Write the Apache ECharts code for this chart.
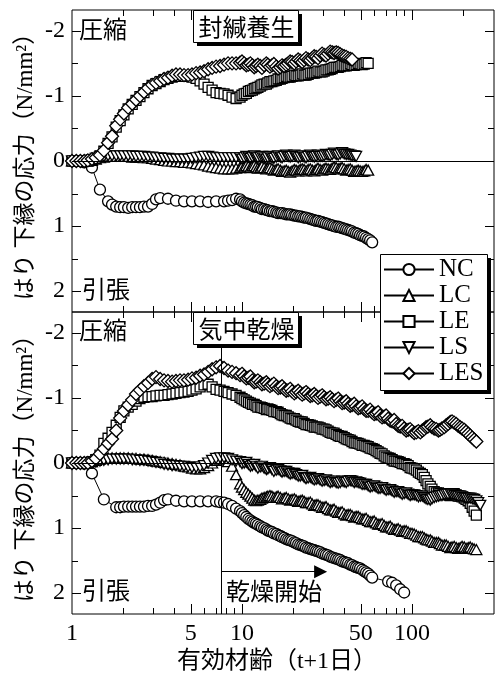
<!DOCTYPE html>
<html>
<head>
<meta charset="utf-8">
<script src="https://cdn.jsdelivr.net/npm/echarts@6/dist/echarts.min.js"></script>
<style>
  html, body { margin: 0; padding: 0; background: #fff; }
  #chart { width: 496px; height: 678px; }
</style>
</head>
<body>
<div id="chart"></div>
<script>
// Effective age (t+1 days) of each reading — sealed curing panel
const daysSealed = [
  1.00, 1.06, 1.12, 1.18, 1.24, 1.31, 1.38, 1.46, 1.54, 1.63,
  1.72, 1.82, 1.92, 2.02, 2.14, 2.26, 2.38, 2.51, 2.65, 2.80,
  2.96, 3.12, 3.30, 3.48, 3.67, 3.88, 4.09, 4.32, 4.56, 4.82,
  5.08, 5.37, 5.67, 5.98, 6.32, 6.67, 7.04, 7.43, 7.84, 8.28,
  8.74, 9.23,
  9.74, 10.0, 10.3, 10.6, 10.9, 11.2, 11.5, 11.8, 12.1, 12.4,
  12.8, 13.1, 13.5, 13.9, 14.2, 14.6, 15.0, 15.4, 15.9, 16.3,
  16.8, 17.2, 17.7, 18.2, 18.7, 19.2, 19.7, 20.3, 20.8, 21.4,
  22.0, 22.6, 23.2, 23.8, 24.5, 25.2, 25.9, 26.6, 27.3, 28.0,
  28.8, 29.6, 30.4, 31.2, 32.1, 33.0, 33.9, 34.8, 35.8, 36.8,
  37.8, 38.8, 39.9, 41.0, 42.1, 43.3, 44.4, 45.7, 46.9, 48.2,
  49.5, 50.9, 52.3, 53.7, 55.2, 56.7, 58.3
];
// Stress at the bottom fibre of the beam (N/mm2), compression negative
const ncSealed = [
  0, 0, 0, 0.02, null, 0.10, null, 0.44, null, 0.62,
  0.67, 0.70, 0.71, 0.71, 0.72, 0.71, 0.71, 0.71, 0.70, 0.70,
  0.66, 0.59, 0.57, null, 0.58, null, 0.61, null, 0.62, null,
  0.62, null, 0.62, null, 0.63, null, 0.62, null, 0.62, 0.61,
  0.60, 0.58,
  0.59, 0.62, 0.64, 0.65, 0.66, 0.67, 0.68, 0.70, 0.70, 0.71,
  0.72, 0.74, 0.74, 0.75, 0.76, 0.77, 0.77, 0.78, 0.79, 0.80,
  0.80, 0.80, 0.81, 0.82, 0.82, 0.82, 0.83, 0.84, 0.84, 0.85,
  0.85, 0.86, 0.87, 0.87, 0.88, 0.89, 0.90, 0.91, 0.92, 0.92,
  0.93, 0.94, 0.95, 0.96, 0.97, 0.98, 0.99, 1.00, 1.01, 1.01,
  1.02, 1.03, 1.04, 1.05, 1.06, 1.07, 1.08, 1.10, 1.11, 1.12,
  1.14, 1.15, 1.16, 1.18, 1.20, 1.22, 1.25
];
const lcSealed = [
  0, 0, 0, 0, 0, -0.01, -0.03, -0.05, -0.06, -0.07,
  -0.07, -0.07, -0.07, -0.07, -0.07, -0.06, -0.06, -0.06, -0.05, -0.05,
  -0.04, -0.03, -0.02, -0.01, 0.00, 0.00, 0.01, 0.01, 0.02, 0.02,
  0.03, 0.04, 0.05, 0.06, 0.08, 0.09, 0.10, 0.11, 0.12, 0.12,
  0.12, 0.11,
  0.10, 0.08, 0.09, 0.07, 0.08, 0.10, 0.08, 0.07, 0.09, 0.11,
  0.10, 0.08, 0.10, 0.12, 0.11, 0.10, 0.12, 0.14, 0.13, 0.12,
  0.14, 0.16, 0.15, 0.14, 0.16, 0.17, 0.15, 0.13, 0.14, 0.15,
  0.13, 0.12, 0.13, 0.15, 0.13, 0.12, 0.14, 0.15, 0.13, 0.11,
  0.13, 0.14, 0.12, 0.11, 0.12, 0.13, 0.11, 0.09, 0.10, 0.12,
  0.11, 0.10, 0.12, 0.14, 0.13, 0.12, 0.14, 0.16, 0.15, 0.14,
  0.15, 0.16, 0.15, 0.13, 0.14
];
const leSealed = [
  0, 0, 0, 0, 0, -0.02, -0.04, -0.08, -0.15, -0.27,
  -0.37, -0.52, -0.62, -0.71, -0.80, -0.87, -0.93, -0.99, -1.05, -1.11,
  -1.16, -1.19, -1.22, -1.25, -1.27, -1.29, -1.30, -1.30, -1.30, -1.30,
  -1.29, -1.27, -1.23, -1.18, -1.13, -1.09, -1.05, -1.04, -1.03, -1.01,
  -0.98, -0.96,
  -0.98, -1.01, -1.03, -1.04, -1.07, -1.08, -1.09, -1.11, -1.12, -1.13,
  -1.15, -1.17, -1.18, -1.18, -1.20, -1.22, -1.22, -1.23, -1.24, -1.26,
  -1.26, -1.27, -1.28, -1.30, -1.29, -1.29, -1.30, -1.32, -1.31, -1.31,
  -1.32, -1.34, -1.32, -1.32, -1.33, -1.35, -1.35, -1.35, -1.36, -1.38,
  -1.37, -1.37, -1.38, -1.40, -1.40, -1.41, -1.42, -1.44, -1.44, -1.44,
  -1.45, -1.47, -1.46, -1.46, -1.47, -1.49, -1.48, -1.47, -1.48, -1.50,
  -1.49, -1.48, -1.49, -1.51, -1.50
];
const lsSealed = [
  0, 0, 0, 0, 0, -0.02, -0.04, -0.06, -0.07, -0.08,
  -0.08, -0.08, -0.08, -0.08, -0.08, -0.08, -0.07, -0.07, -0.07, -0.06,
  -0.06, -0.05, -0.05, -0.04, -0.04, -0.03, -0.03, -0.03, -0.03, -0.03,
  -0.04, -0.05, -0.06, -0.07, -0.07, -0.06, -0.05, -0.05, -0.05, -0.05,
  -0.05, -0.05,
  -0.05, -0.03, -0.05, -0.07, -0.06, -0.04, -0.06, -0.08, -0.06, -0.05,
  -0.06, -0.07, -0.05, -0.03, -0.05, -0.07, -0.05, -0.04, -0.06, -0.08,
  -0.06, -0.05, -0.07, -0.09, -0.07, -0.06, -0.07, -0.09, -0.07, -0.05,
  -0.06, -0.08, -0.06, -0.05, -0.07, -0.09, -0.07, -0.06, -0.07, -0.09,
  -0.07, -0.07, -0.08, -0.10, -0.09, -0.08, -0.10, -0.12, -0.10, -0.09,
  -0.11, -0.13, -0.11, -0.10, -0.10, -0.09, -0.08, -0.08, -0.07
];
const lesSealed = [
  0, 0, 0, 0, -0.01, -0.03, -0.05, -0.09, -0.16, -0.28,
  -0.38, -0.54, -0.64, -0.73, -0.82, -0.88, -0.94, -1.00, -1.06, -1.12,
  -1.17, -1.20, -1.23, -1.26, -1.28, -1.31, -1.33, -1.33, -1.32, -1.32,
  -1.33, -1.35, -1.36, -1.38, -1.41, -1.43, -1.45, -1.46, -1.48, -1.50,
  -1.50, -1.50,
  -1.51, -1.53, -1.50, -1.47, -1.48, -1.50, -1.47, -1.44, -1.46, -1.48,
  -1.46, -1.43, -1.47, -1.50, -1.48, -1.45, -1.47, -1.49, -1.45, -1.42,
  -1.44, -1.47, -1.46, -1.48, -1.50, -1.53, -1.52, -1.50, -1.53, -1.56,
  -1.54, -1.52, -1.55, -1.58, -1.56, -1.55, -1.58, -1.61, -1.60, -1.58,
  -1.62, -1.65, -1.63, -1.62, -1.65, -1.68, -1.67, -1.66, -1.67, -1.66,
  -1.64, -1.62, -1.61, -1.60, -1.58, -1.57, -1.56
];

// Effective age of each reading — air drying panel
const daysDried = [
  1.00, 1.06, 1.12, 1.18, 1.24, 1.31, 1.38, 1.46, 1.54, 1.63,
  1.72, 1.82, 1.92, 2.02, 2.14, 2.26, 2.38, 2.51, 2.65, 2.80,
  2.96, 3.12, 3.30, 3.48, 3.67, 3.88, 4.09, 4.32, 4.56, 4.82,
  5.08, 5.37, 5.67, 5.98, 6.32, 6.67, 7.04, 7.43, 7.84, 8.28,
  8.74, 9.23,
  9.74, 10.0, 10.3, 10.6, 10.9, 11.2, 11.5, 11.8, 12.1, 12.4,
  12.8, 13.1, 13.5, 13.9, 14.2, 14.6, 15.0, 15.4, 15.9, 16.3,
  16.8, 17.2, 17.7, 18.2, 18.7, 19.2, 19.7, 20.3, 20.8, 21.4,
  22.0, 22.6, 23.2, 23.8, 24.5, 25.2, 25.9, 26.6, 27.3, 28.0,
  28.8, 29.6, 30.4, 31.2, 32.1, 33.0, 33.9, 34.8, 35.8, 36.8,
  37.8, 38.8, 39.9, 41.0, 42.1, 43.3, 44.4, 45.7, 46.9, 48.2,
  49.5, 50.9, 52.3, 53.7, 55.2, 56.7, 58.3, 59.9, 61.5, 63.2,
  64.9, 66.7, 68.6, 70.4, 72.4, 74.4, 76.4, 78.5, 80.7, 82.9,
  85.2, 87.5, 89.9, 92.4, 94.9, 97.5, 100, 103, 106, 109,
  112, 115, 118, 121, 124, 128, 131, 135, 139, 143,
  146, 150, 155, 159, 163, 168, 172, 177, 182, 187,
  192, 197, 203, 208, 214, 220, 226, 232, 239, 245,
  252
];
const ncDried = [
  0, 0, 0, 0.01, null, 0.16, null, null, 0.56, null,
  null, 0.68, 0.68, 0.67, 0.67, 0.67, 0.67, 0.67, 0.67, 0.66,
  0.66, 0.64, 0.61, 0.57, 0.56, null, 0.58, null, 0.59, null,
  0.59, null, 0.59, null, 0.59, null, 0.59, 0.60, 0.61, 0.63,
  0.66, 0.70,
  0.74, 0.77, 0.80, 0.83, 0.86, 0.88, 0.90, 0.92, 0.93, 0.95,
  0.97, 0.99, 1.00, 1.02, 1.04, 1.05, 1.06, 1.08, 1.09, 1.11,
  1.12, 1.14, 1.15, 1.17, 1.18, 1.19, 1.20, 1.22, 1.23, 1.25,
  1.26, 1.27, 1.28, 1.30, 1.31, 1.32, 1.33, 1.34, 1.35, 1.36,
  1.37, 1.39, 1.40, 1.41, 1.42, 1.44, 1.45, 1.46, 1.47, 1.48,
  1.49, 1.51, 1.52, 1.53, 1.54, 1.56, 1.57, 1.59, 1.60, 1.61,
  1.62, 1.64, 1.66, 1.68, 1.70, 1.73, 1.76, null, null, null,
  null, null, null, null, 1.82, null, 1.84, null, 1.88, null,
  1.94, null, 1.99
];
const lcDried = [
  0, 0, 0, 0, 0, -0.02, -0.04, -0.06, -0.07, -0.08,
  -0.08, -0.08, -0.08, -0.08, -0.08, -0.07, -0.07, -0.06, -0.06, -0.05,
  -0.04, -0.03, -0.02, -0.01, 0.00, 0.01, 0.02, 0.03, 0.05, 0.06,
  0.08, 0.09, 0.09, 0.07, 0.04, 0.00, -0.04, -0.06, -0.05, -0.02,
  0.05, 0.18,
  0.32, 0.37, 0.41, 0.45, 0.48, 0.51, 0.54, 0.57, 0.58, 0.57,
  0.56, 0.54, 0.53, 0.52, 0.51, 0.50, 0.51, 0.53, 0.52, 0.51,
  0.53, 0.55, 0.54, 0.53, 0.55, 0.57, 0.56, 0.55, 0.57, 0.59,
  0.58, 0.57, 0.59, 0.61, 0.61, 0.60, 0.63, 0.65, 0.64, 0.64,
  0.66, 0.68, 0.68, 0.67, 0.70, 0.72, 0.72, 0.71, 0.74, 0.76,
  0.76, 0.75, 0.78, 0.80, 0.79, 0.79, 0.81, 0.83, 0.82, 0.82,
  0.84, 0.86, 0.86, 0.85, 0.88, 0.90, 0.90, 0.89, 0.92, 0.94,
  0.94, 0.93, 0.96, 0.98, 0.98, 0.97, 1.00, 1.02, 1.02, 1.01,
  1.03, 1.05, 1.04, 1.04, 1.06, 1.08, 1.08, 1.09, 1.11, 1.13,
  1.13, 1.13, 1.15, 1.17, 1.18, 1.18, 1.20, 1.22, 1.22, 1.22,
  1.24, 1.26, 1.26, 1.26, 1.28, 1.30, 1.29, 1.28, 1.30, 1.31,
  1.30, 1.28, 1.29, 1.31, 1.30, 1.29, 1.31, 1.32, 1.33
];
const leDried = [
  0, 0, 0, 0, 0, -0.02, -0.05, -0.12, -0.30, -0.38,
  -0.47, -0.58, -0.70, -0.80, -0.86, -0.90, -0.95, -0.99, -1.01, -1.02,
  -1.02, -1.03, -1.04, -1.04, -1.05, -1.06, -1.07, -1.08, -1.09, -1.10,
  -1.12, -1.14, -1.17, -1.20, -1.21, -1.17, -1.13, -1.12, -1.10, -1.08,
  -1.06, -1.04,
  -1.01, -0.99, -0.97, -0.95, -0.93, -0.92, -0.90, -0.90, -0.88, -0.86,
  -0.86, -0.85, -0.84, -0.82, -0.83, -0.82, -0.81, -0.79, -0.79, -0.78,
  -0.76, -0.74, -0.73, -0.73, -0.71, -0.69, -0.68, -0.68, -0.66, -0.64,
  -0.63, -0.63, -0.61, -0.59, -0.59, -0.58, -0.57, -0.55, -0.55, -0.55,
  -0.54, -0.52, -0.52, -0.51, -0.49, -0.47, -0.46, -0.46, -0.44, -0.42,
  -0.41, -0.41, -0.39, -0.37, -0.36, -0.35, -0.33, -0.31, -0.31, -0.30,
  -0.29, -0.27, -0.27, -0.26, -0.25, -0.23, -0.22, -0.21, -0.19, -0.17,
  -0.15, -0.14, -0.11, -0.09, -0.08, -0.07, -0.05, -0.03, -0.03, -0.02,
  -0.01, 0.01, 0.01, 0.02, 0.04, 0.07, 0.08, 0.09, 0.11, 0.14,
  0.16, 0.18, 0.22, 0.27, 0.32, 0.36, 0.40, 0.44, 0.46, 0.46,
  0.47, 0.49, 0.48, 0.47, 0.48, 0.50, 0.48, 0.47, 0.49, 0.51,
  0.51, 0.52, 0.54, 0.56, 0.58, 0.62, 0.68, 0.74, 0.80
];
const lsDried = [
  0, 0, 0, 0, 0, -0.01, -0.02, -0.03, -0.04, -0.05,
  -0.06, -0.06, -0.06, -0.06, -0.06, -0.05, -0.05, -0.04, -0.04, -0.03,
  -0.02, -0.01, 0.00, 0.02, 0.03, 0.04, 0.04, 0.05, 0.05, 0.06,
  0.07, 0.07, 0.06, 0.04, 0.00, -0.04, -0.07, -0.08, -0.08, -0.07,
  -0.05, -0.03,
  -0.02, 0.01, 0.00, -0.01, 0.02, 0.05, 0.04, 0.02, 0.05, 0.08,
  0.06, 0.05, 0.08, 0.10, 0.09, 0.07, 0.10, 0.13, 0.11, 0.10,
  0.12, 0.14, 0.13, 0.13, 0.15, 0.17, 0.16, 0.16, 0.18, 0.20,
  0.20, 0.19, 0.22, 0.24, 0.23, 0.22, 0.24, 0.26, 0.25, 0.24,
  0.26, 0.28, 0.27, 0.26, 0.28, 0.30, 0.29, 0.28, 0.30, 0.31,
  0.30, 0.28, 0.29, 0.30, 0.28, 0.27, 0.28, 0.30, 0.29, 0.30,
  0.31, 0.33, 0.33, 0.33, 0.35, 0.37, 0.36, 0.35, 0.37, 0.39,
  0.39, 0.38, 0.40, 0.42, 0.41, 0.41, 0.43, 0.45, 0.44, 0.44,
  0.46, 0.48, 0.47, 0.46, 0.48, 0.50, 0.49, 0.49, 0.50, 0.52,
  0.51, 0.51, 0.53, 0.55, 0.56, 0.57, 0.55, 0.53, 0.52, 0.51,
  0.50, 0.50, 0.49, 0.48, 0.48, 0.47, 0.48, 0.49, 0.50, 0.51,
  0.51, 0.52, 0.53, 0.54, 0.54, 0.54, 0.55, 0.56, 0.58, 0.61,
  0.65
];
const lesDried = [
  0, 0, 0, 0, 0, -0.03, -0.07, -0.14, -0.22, -0.30,
  -0.37, -0.50, -0.69, -0.80, -0.89, -0.97, -1.06, -1.12, -1.18, -1.23,
  -1.29, -1.32, -1.29, -1.27, -1.26, -1.25, -1.26, -1.27, -1.27, -1.28,
  -1.30, -1.31, -1.34, -1.36, -1.40, -1.44, -1.47, -1.49, -1.46, -1.42,
  -1.40, -1.38,
  -1.35, -1.37, -1.33, -1.30, -1.31, -1.33, -1.27, -1.24, -1.25, -1.27,
  -1.24, -1.21, -1.22, -1.24, -1.21, -1.18, -1.20, -1.22, -1.18, -1.15,
  -1.16, -1.18, -1.14, -1.11, -1.12, -1.14, -1.10, -1.07, -1.09, -1.11,
  -1.08, -1.05, -1.07, -1.09, -1.06, -1.03, -1.04, -1.06, -1.03, -1.00,
  -1.02, -1.04, -1.01, -0.98, -0.99, -1.01, -0.98, -0.95, -0.97, -0.99,
  -0.95, -0.92, -0.93, -0.95, -0.91, -0.88, -0.89, -0.91, -0.87, -0.84,
  -0.85, -0.87, -0.83, -0.80, -0.80, -0.82, -0.78, -0.75, -0.76, -0.78,
  -0.73, -0.70, -0.71, -0.73, -0.68, -0.65, -0.64, -0.66, -0.60, -0.57,
  -0.56, -0.57, -0.53, -0.50, -0.51, -0.52, -0.49, -0.46, -0.47, -0.49,
  -0.47, -0.50, -0.52, -0.55, -0.56, -0.58, -0.55, -0.53, -0.52, -0.50,
  -0.51, -0.53, -0.55, -0.58, -0.60, -0.63, -0.64, -0.62, -0.60, -0.57,
  -0.55, -0.53, -0.51, -0.48, -0.45, -0.42, -0.39, -0.36, -0.33
];

// Axis ticks and labels
const xMajorTicks = [5, 10, 50, 100];
const xMinorTicks = [2, 3, 4, 6, 7, 8, 9, 20, 30, 40, 60, 70, 80, 90, 200];
const xTickLabels = [1, 5, 10, 50, 100];
const yMajorTicks = [-2, -1, 0, 1, 2];
const yMinorTicks = [-1.5, -0.5, 0.5, 1.5];
const yTickLabels = [-2, -1, 0, 1, 2];

// Drying start and its arrow
const dryStart = 7.6;
const arrowLevel = 1.67;
const arrowEnd = 29;

const names = ['NC', 'LC', 'LE', 'LS', 'LES'];
const symbols = ['circle', 'triangle', 'rect', 'triangle', 'diamond'];
const symbolSizes = [11, [11, 10], 10, [11, 10], 13];
const symbolRotates = [0, 0, 0, 180, 0];

const SERIF = '"Liberation Serif", "Noto Sans CJK JP", serif';
const JP = '"Noto Sans CJK JP", sans-serif';

const X_MAX = 303.6;
const Y_LIM = 2.32;

function pairs(days, vals) {
  const out = [];
  days.forEach((d, i) => {
    if (vals[i] != null) out.push([d, vals[i]]);
  });
  return out;
}

function stressSeries(k, days, vals, g) {
  return {
    type: 'line',
    name: names[k],
    xAxisIndex: g,
    yAxisIndex: g,
    data: pairs(days, vals),
    symbol: symbols[k],
    symbolSize: symbolSizes[k],
    symbolRotate: symbolRotates[k],
    showAllSymbol: true,
    lineStyle: { color: '#000', width: 1 },
    itemStyle: { color: '#fff', borderColor: '#000', borderWidth: 1.3 },
    emphasis: { disabled: true },
    silent: true,
    z: 2 + k * 0.01
  };
}

const tickStyle = { stroke: '#000', lineWidth: 1 };

function xTickSeries(g, withLabels) {
  const data = [];
  xMajorTicks.forEach(v => data.push([v, 0, 10]));
  xMinorTicks.forEach(v => data.push([v, 0, 6]));
  const s = [{
    type: 'custom',
    xAxisIndex: g, yAxisIndex: g,
    silent: true, clip: false, z: 3,
    data,
    renderItem: (params, api) => {
      const cs = params.coordSys;
      const x = Math.round(api.coord([api.value(0), 0])[0]) + 0.5;
      const len = api.value(2);
      const b = cs.y + cs.height, t = cs.y;
      return { type: 'group', children: [
        { type: 'line', shape: { x1: x, y1: b, x2: x, y2: b - len }, style: tickStyle },
        { type: 'line', shape: { x1: x, y1: t, x2: x, y2: t + len }, style: tickStyle }
      ] };
    }
  }];
  if (withLabels) {
    s.push({
      type: 'custom',
      xAxisIndex: g, yAxisIndex: g,
      silent: true, clip: false, z: 3,
      data: xTickLabels.map(v => [v, 0]),
      renderItem: (params, api) => {
        const cs = params.coordSys;
        const x = api.coord([api.value(0), 0])[0];
        return { type: 'text', x: x, y: cs.y + cs.height + 20,
          style: { text: String(api.value(0)), font: '24px ' + SERIF, fill: '#000',
            align: 'center', verticalAlign: 'middle', textAlign: 'center', textVerticalAlign: 'middle' } };
      }
    });
  }
  return s;
}

function yTickSeries(g) {
  const data = [];
  yMajorTicks.forEach(v => data.push([1, v, 9]));
  yMinorTicks.forEach(v => data.push([1, v, 6]));
  return [{
    type: 'custom',
    xAxisIndex: g, yAxisIndex: g,
    silent: true, clip: false, z: 3,
    data,
    renderItem: (params, api) => {
      const cs = params.coordSys;
      const y = Math.round(api.coord([1, api.value(1)])[1]) + 0.5;
      const len = api.value(2);
      const l = cs.x, r = cs.x + cs.width;
      return { type: 'group', children: [
        { type: 'line', shape: { x1: l, y1: y, x2: l + len, y2: y }, style: tickStyle },
        { type: 'line', shape: { x1: r, y1: y, x2: r - len, y2: y }, style: tickStyle }
      ] };
    }
  }, {
    type: 'custom',
    xAxisIndex: g, yAxisIndex: g,
    silent: true, clip: false, z: 3,
    data: yTickLabels.map(v => [1, v]),
    renderItem: (params, api) => {
      const cs = params.coordSys;
      const y = api.coord([1, api.value(1)])[1];
      return { type: 'text', x: cs.x - 7, y: y,
        style: { text: String(api.value(1)), font: '24px ' + SERIF, fill: '#000',
          align: 'right', verticalAlign: 'middle', textAlign: 'right', textVerticalAlign: 'middle' } };
    }
  }];
}

const series = [];
[ncSealed, lcSealed, leSealed, lsSealed, lesSealed].forEach((v, k) =>
  series.push(stressSeries(k, daysSealed, v, 0)));
[ncDried, lcDried, leDried, lsDried, lesDried].forEach((v, k) =>
  series.push(stressSeries(k, daysDried, v, 1)));

const refLine = { color: '#000', width: 1, type: 'solid' };
// zero-stress line in the sealed panel
series[0].markLine = {
  silent: true, symbol: 'none', label: { show: false }, lineStyle: refLine,
  emphasis: { disabled: true }, data: [{ yAxis: 0 }]
};
// zero-stress line and drying start in the drying panel
series[5].markLine = {
  silent: true, symbol: 'none', label: { show: false }, lineStyle: refLine,
  emphasis: { disabled: true }, data: [{ yAxis: 0 }, { xAxis: dryStart }]
};
// arrow pointing along the drying period
series[6].markLine = {
  silent: true, symbol: ['none', 'triangle'], symbolSize: 13,
  label: { show: false }, lineStyle: refLine, emphasis: { disabled: true },
  data: [[{ coord: [dryStart, arrowLevel] }, { coord: [arrowEnd, arrowLevel] }]]
};

series.push(...xTickSeries(0, false), ...yTickSeries(0));
series.push(...xTickSeries(1, true), ...yTickSeries(1));

function boxLabel(x, y, w, h, text) {
  return [
    { type: 'rect', z: 20, shape: { x: x + 4, y: y + 4, width: w, height: h }, style: { fill: '#000' } },
    { type: 'rect', z: 21, shape: { x: x + 0.5, y: y + 0.5, width: w, height: h }, style: { fill: '#fff', stroke: '#000', lineWidth: 1 } },
    { type: 'text', z: 22, x: x + w / 2 + 1, y: y + h / 2 + 1,
      style: { text, font: '24px ' + JP, fill: '#000', align: 'center', verticalAlign: 'middle', textAlign: 'center', textVerticalAlign: 'middle' } }
  ];
}

function plainText(x, y, text, rot) {
  return { type: 'text', z: 22, x, y, rotation: rot || 0,
    style: { text, font: (rot ? '23px ' : '24px ') + SERIF, fill: '#000',
      align: rot ? 'center' : 'left', verticalAlign: 'middle',
      textAlign: rot ? 'center' : 'left', textVerticalAlign: 'middle' } };
}

const yTitle = 'はり 下縁の応力（N/mm²）';

const option = {
  animation: false,
  backgroundColor: '#fff',
  grid: [
    { left: 72, top: 10, width: 422, height: 302, show: true, borderColor: '#000', borderWidth: 1,
      backgroundColor: 'transparent', containLabel: false, outerBoundsMode: 'none' },
    { left: 72, top: 312, width: 422, height: 302, show: true, borderColor: '#000', borderWidth: 1,
      backgroundColor: 'transparent', containLabel: false, outerBoundsMode: 'none' }
  ],
  xAxis: [0, 1].map(g => ({
    type: 'log', logBase: 10, gridIndex: g, min: 1, max: X_MAX,
    axisLine: { show: false }, axisTick: { show: false }, axisLabel: { show: false },
    splitLine: { show: false }, minorTick: { show: false }
  })),
  yAxis: [0, 1].map(g => ({
    type: 'value', gridIndex: g, inverse: true, min: -Y_LIM, max: Y_LIM,
    axisLine: { show: false }, axisTick: { show: false }, axisLabel: { show: false },
    splitLine: { show: false }
  })),
  legend: {
    orient: 'vertical', left: 383, top: 257, padding: 0,
    itemWidth: 50, itemHeight: 14, itemGap: 1,
    selectedMode: false, z: 30,
    textStyle: { fontFamily: SERIF, fontSize: 25, color: '#000', lineHeight: 25 },
    data: names
  },
  graphic: [
    // legend frame with drop shadow
    { type: 'rect', z: 20, shape: { x: 384, y: 258, width: 107, height: 136 }, style: { fill: '#000' } },
    { type: 'rect', z: 21, shape: { x: 380.5, y: 254.5, width: 107, height: 136 }, style: { fill: '#fff', stroke: '#000', lineWidth: 1 } },
    ...boxLabel(193, 10, 105, 32, '封緘養生'),
    ...boxLabel(193, 312, 105, 32, '気中乾燥'),
    plainText(79, 32, '圧縮'),
    plainText(82, 292, '引張'),
    plainText(79, 333, '圧縮'),
    plainText(82, 593, '引張'),
    plainText(226, 594, '乾燥開始'),
    plainText(26, 161, yTitle, Math.PI / 2),
    plainText(26, 463, yTitle, Math.PI / 2),
    { type: 'text', z: 22, x: 277, y: 662,
      style: { text: '有効材齢（t+1日）', font: '24px ' + SERIF, fill: '#000',
        align: 'center', verticalAlign: 'middle', textAlign: 'center', textVerticalAlign: 'middle' } }
  ],
  series
};

const chart = echarts.init(document.getElementById('chart'), null, { renderer: 'canvas' });
chart.setOption(option);
</script>
</body>
</html>
